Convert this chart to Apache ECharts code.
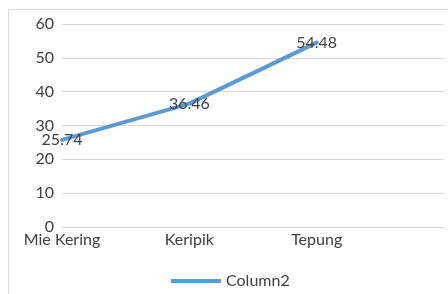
<!DOCTYPE html>
<html>
<head>
<meta charset="utf-8" />
<script src="https://cdn.jsdelivr.net/npm/echarts@6/dist/echarts.min.js"></script>
<style>
  html, body { margin: 0; padding: 0; background: #fff; }
  #main { width: 448px; height: 294px; }
</style>
</head>
<body>
<div id="main"></div>
<script>
var categories = ['Mie Kering', 'Keripik', 'Tepung', ''];
var column2 = [25.74, 36.46, 54.48, null];
var yTicks = { min: 0, max: 60, interval: 10 };

var chart = echarts.init(document.getElementById('main'), null, { renderer: 'canvas' });
var font = 'Lato, "DejaVu Sans", sans-serif';

chart.setOption({
    animation: false,
    textStyle: { fontFamily: font },
    graphic: [{
        type: 'rect',
        shape: { x: 8.5, y: 9.5, width: 600, height: 400 },
        style: { fill: 'none', stroke: '#d9d9d9', lineWidth: 1 },
        silent: true
    }],
    grid: { left: 62, right: 4, top: 24, bottom: 67 },
    xAxis: {
        type: 'category',
        data: categories,
        boundaryGap: false,
        axisLine: { lineStyle: { color: '#d9d9d9' } },
        axisTick: { show: false },
        axisLabel: { color: '#404040', fontSize: 16, fontFamily: font, margin: 5 }
    },
    yAxis: {
        type: 'value',
        min: yTicks.min, max: yTicks.max, interval: yTicks.interval,
        axisLine: { show: false },
        axisTick: { show: false },
        splitLine: { lineStyle: { color: '#d9d9d9', width: 1 } },
        axisLabel: { color: '#404040', fontSize: 16, fontFamily: font, margin: 8 }
    },
    legend: {
        bottom: 0,
        left: 166,
        itemWidth: 50,
        itemHeight: 14,
        itemGap: 10,
        textStyle: { color: '#404040', fontSize: 16, fontFamily: font },
        data: [{ name: 'Column2', icon: 'path://M0,0 L50,0 L50,4 L0,4 Z' }]
    },
    series: [{
        name: 'Column2',
        type: 'line',
        data: column2,
        symbol: 'circle',
        symbolSize: 0,
        lineStyle: { color: '#5b9bd5', width: 4, cap: 'round' },
        itemStyle: { color: '#5b9bd5' },
        label: {
            show: true,
            position: 'inside',
            color: '#404040',
            fontSize: 16,
            fontFamily: font
        }
    }]
});
</script>
</body>
</html>
